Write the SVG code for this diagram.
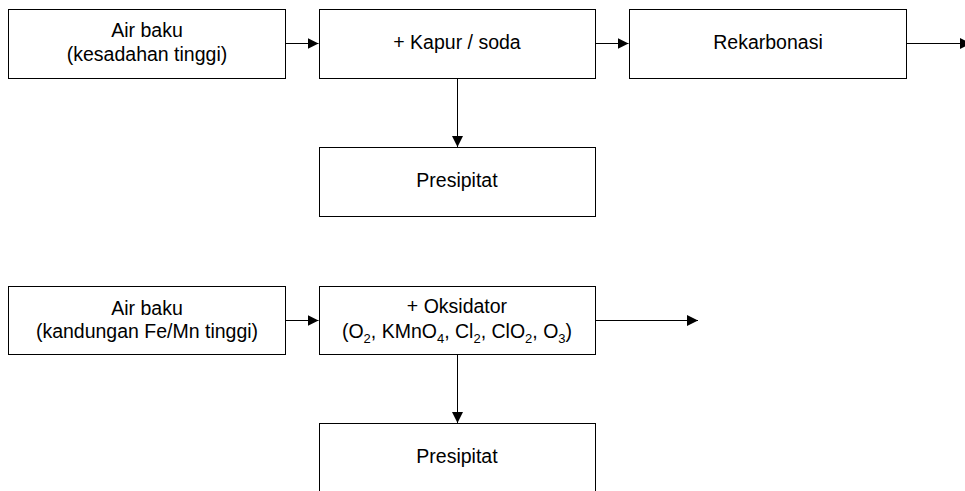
<svg xmlns="http://www.w3.org/2000/svg" width="965" height="491" viewBox="0 0 965 491">
<style>
.box{fill:#fff;stroke:#000;stroke-width:1}
.t{font-family:"Liberation Sans",Arial,sans-serif;font-size:19.5px;fill:#000;text-anchor:middle}
.s{font-size:13px}
.c{fill:none;stroke:#000;stroke-width:1}
</style>
<defs>
<marker id="ah" markerUnits="userSpaceOnUse" markerWidth="12" markerHeight="12" refX="11" refY="5.5" orient="auto">
<path d="M0,0 L11,5.5 L0,11 z" fill="#000"/>
</marker>
</defs>
<rect width="965" height="491" fill="#fff"/>
<g id="connectors">
<line class="c" x1="285.5" y1="43.5" x2="318.5" y2="43.5" marker-end="url(#ah)"/>
<line class="c" x1="595.5" y1="43.5" x2="628.5" y2="43.5" marker-end="url(#ah)"/>
<line class="c" x1="906.5" y1="43.5" x2="971" y2="43.5" marker-end="url(#ah)"/>
<line class="c" x1="457.5" y1="78.5" x2="457.5" y2="147" marker-end="url(#ah)"/>
<line class="c" x1="285.5" y1="320.5" x2="318.5" y2="320.5" marker-end="url(#ah)"/>
<line class="c" x1="595.5" y1="320.5" x2="698" y2="320.5" marker-end="url(#ah)"/>
<line class="c" x1="457.5" y1="354.5" x2="457.5" y2="423" marker-end="url(#ah)"/>
</g>
<g id="n1"><rect class="box" x="8.5" y="9.5" width="277" height="69"/>
<text class="t" x="147" y="37">Air baku</text><text class="t" x="147" y="61">(kesadahan tinggi)</text></g>
<g id="n2"><rect class="box" x="319.5" y="9.5" width="276" height="69"/>
<text class="t" x="457" y="49">+ Kapur / soda</text></g>
<g id="n3"><rect class="box" x="629.5" y="9.5" width="277" height="69"/>
<text class="t" x="768" y="49">Rekarbonasi</text></g>
<g id="n4"><rect class="box" x="319.5" y="147.5" width="276" height="69"/>
<text class="t" x="457" y="187">Presipitat</text></g>
<g id="n5"><rect class="box" x="8.5" y="286.5" width="277" height="68"/>
<text class="t" x="147" y="315">Air baku</text><text class="t" x="147" y="338">(kandungan Fe/Mn tinggi)</text></g>
<g id="n6"><rect class="box" x="319.5" y="286.5" width="276" height="68"/>
<text class="t" x="457" y="313">+ Oksidator</text>
<text class="t" x="457" y="338">(O<tspan class="s" dy="5">2</tspan><tspan dy="-5">, KMnO</tspan><tspan class="s" dy="5">4</tspan><tspan dy="-5">, Cl</tspan><tspan class="s" dy="5">2</tspan><tspan dy="-5">, ClO</tspan><tspan class="s" dy="5">2</tspan><tspan dy="-5">, O</tspan><tspan class="s" dy="5">3</tspan><tspan dy="-5">)</tspan></text></g>
<g id="n7"><rect class="box" x="319.5" y="423.5" width="276" height="80"/>
<text class="t" x="457" y="463">Presipitat</text></g>
</svg>
